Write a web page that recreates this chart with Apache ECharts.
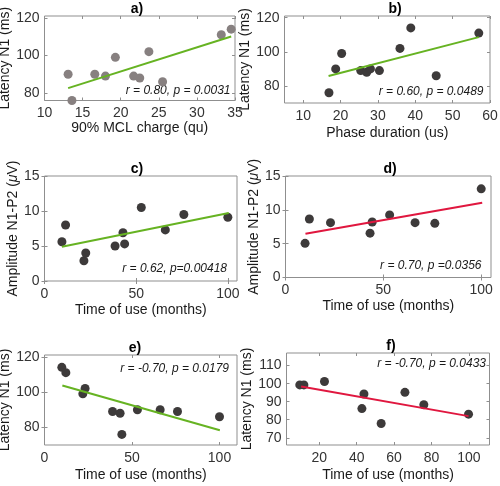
<!DOCTYPE html>
<html>
<head>
<meta charset="utf-8">
<script src="https://cdn.jsdelivr.net/npm/echarts@6/dist/echarts.min.js"></script>
<style>html,body{margin:0;padding:0;background:#fff}#c{width:500px;height:486px}</style>
</head>
<body>
<div id="c"></div>
<script>
// ---- data ----
const aCharge  = [13.1, 13.6, 16.6, 18.0, 19.3, 21.7, 22.5, 23.7, 25.5, 33.2, 34.5];
const aLatency = [90, 76, 90, 89, 99, 89, 88, 102, 86, 111, 114];
const aFitX = [13.1, 34.5], aFitY = [82.6, 110.1];

const bPhase   = [16.9, 18.7, 20.3, 25.4, 27.0, 28.0, 30.4, 35.9, 38.8, 45.6, 57.0];
const bLatency = [76, 90, 99, 89, 88, 90, 89, 102, 114, 86, 111];
const bFitX = [16.8, 57.0], bFitY = [85.8, 108.6];

const cTime = [9.5, 11.5, 21.5, 22.5, 38.5, 42.8, 43.7, 52.8, 65.9, 76, 100];
const cAmp  = [5.6, 8.0, 2.9, 4.0, 5.0, 6.9, 5.3, 10.5, 7.3, 9.5, 9.1];
const cFitX = [9.5, 100.5], cFitY = [4.9, 9.7];

const dTime = [10, 12.2, 23, 43.2, 44.3, 53.2, 66.2, 76.3, 100];
const dAmp  = [5.05, 8.65, 8.1, 6.55, 8.2, 9.25, 8.1, 8.0, 13.1];
const dFitX = [10.2, 100.5], dFitY = [6.45, 11.05];

const eTime    = [9.9, 12.2, 21.9, 23.2, 38.9, 43.2, 44.2, 53.1, 66.1, 76.0, 100];
const eLatency = [114, 111, 99, 102, 89, 88, 76, 90, 90, 89, 86];
const eFitX = [10.2, 100.2], eFitY = [103.7, 78.4];

const fTime    = [9.6, 11.8, 22.8, 42.8, 43.9, 53.1, 65.8, 75.9, 99.8];
const fLatency = [99.3, 99.3, 101.2, 86.2, 94.3, 77.9, 95.2, 88.3, 83.1];
const fFitX = [10.3, 99.8], fFitY = [98.4, 82.0];

const xTicksA = [10, 15, 20, 25, 30, 35];
const xTicksB = [10, 20, 30, 40, 50, 60];
const xTicksTime = [0, 50, 100];
const xTicksF = [20, 40, 60, 80, 100];
const yTicksLat = [80, 100, 120];
const yTicksAmp = [0, 5, 10, 15];
const yTicksF = [70, 80, 90, 100, 110];

const titles = ['a)', 'b)', 'c)', 'd)', 'e)', 'f)'];
const stats = ['r = 0.80, p = 0.0031', 'r = 0.60, p = 0.0489', 'r = 0.62, p=0.00418',
               'r = 0.70, p =0.0356', 'r = -0.70, p = 0.0179', 'r = -0.70, p = 0.0433'];
const xNames = ['90% MCL charge (qu)', 'Phase duration (us)', 'Time of use (months)',
                'Time of use (months)', 'Time of use (months)', 'Time of use (months)'];
const latName = 'Latency N1 (ms)';
const ampName = 'Amplitude N1-P2 ({mu|μ}V)';

// ---- layout / style ----
const FONT = 'Liberation Sans';
const GREEN = '#66b322', RED = '#e0173f';
const BOX = '#8f8f8f';
const panels = [
  {grid:[44.5,16,190.5,84.5],  x:[10,35],  xt:xTicksA,    y:[76,121], yt:yTicksLat, yn:latName, xs:aCharge, ys:aLatency, fx:aFitX, fy:aFitY, col:GREEN, dot:'#878080', yGap:30, xGap:21, tx:137, stat:[230.5,91]},
  {grid:[284.5,16,205.5,87],   x:[5,60],   xt:xTicksB,    y:[70,121], yt:yTicksLat, yn:latName, xs:bPhase, ys:bLatency, fx:bFitX, fy:bFitY, col:GREEN, dot:'#3d3a3a', yGap:25, xGap:23, tx:395, stat:[483.5,91.5]},
  {grid:[44.5,176,192.5,105],  x:[0,105],  xt:xTicksTime, y:[0,15],   yt:yTicksAmp, yn:ampName, xs:cTime, ys:cAmp, fx:cFitX, fy:cFitY, col:GREEN, dot:'#3d3a3a', yGap:23, xGap:22, tx:137, stat:[227,269]},
  {grid:[285.5,176,205.5,101.5],x:[0,105], xt:xTicksTime, y:[0,15],   yt:yTicksAmp, yn:ampName, xs:dTime, ys:dAmp, fx:dFitX, fy:dFitY, col:RED, dot:'#3d3a3a', yGap:23, xGap:22, tx:390, stat:[481.5,266]},
  {grid:[44.5,355,192.5,90],   x:[0,110],  xt:xTicksTime, y:[70,121], yt:yTicksLat, yn:latName, xs:eTime, ys:eLatency, fx:eFitX, fy:eFitY, col:GREEN, dot:'#3d3a3a', yGap:30, xGap:23, tx:135, stat:[229,369]},
  {grid:[286.5,353,203,92],    x:[2.5,111],xt:xTicksF,    y:[66,117], yt:yTicksF,   yn:latName, xs:fTime, ys:fLatency, fx:fFitX, fy:fFitY, col:RED, dot:'#3d3a3a', yGap:27, xGap:23, tx:391, stat:[486,363.5]}
];

const grid = [], xAxis = [], yAxis = [], series = [], graphic = [];
const labelStyle = {fontFamily: FONT, fontSize: 14, color: '#333333'};
panels.forEach((p, i) => {
  grid.push({left:p.grid[0], top:p.grid[1], width:p.grid[2], height:p.grid[3],
             show:true, borderColor:BOX, borderWidth:1, backgroundColor:'#fff',
             containLabel:false, outerBoundsMode:'none'});
  const tickStyle = {show:true, inside:true, length:3, lineStyle:{color:BOX, width:1}};
  xAxis.push({type:'value', gridIndex:i, min:p.x[0], max:p.x[1], position:'bottom',
    axisLine:{show:false}, splitLine:{show:false},
    axisTick:Object.assign({customValues:p.xt}, tickStyle),
    axisLabel:Object.assign({customValues:p.xt, margin:6}, labelStyle),
    name:xNames[i], nameLocation:'middle', nameGap:p.xGap,
    nameTextStyle:{fontFamily:FONT, fontSize:14, color:'#1a1a1a'}});
  yAxis.push({type:'value', gridIndex:i, min:p.y[0], max:p.y[1], position:'left',
    axisLine:{show:false}, splitLine:{show:false},
    axisTick:Object.assign({customValues:p.yt}, tickStyle),
    axisLabel:Object.assign({customValues:p.yt, margin:5}, labelStyle),
    name:p.yn, nameLocation:'middle', nameGap:p.yGap,
    nameTextStyle:{fontFamily:FONT, fontSize:14, color:'#1a1a1a',
      rich:{mu:{fontFamily:FONT, fontSize:14, fontStyle:'italic', color:'#1a1a1a'}}}});
  xAxis.push({type:'value', gridIndex:i, min:p.x[0], max:p.x[1], position:'top',
    axisLine:{show:false}, splitLine:{show:false}, axisLabel:{show:false},
    axisTick:Object.assign({customValues:p.xt}, tickStyle)});
  yAxis.push({type:'value', gridIndex:i, min:p.y[0], max:p.y[1], position:'right',
    axisLine:{show:false}, splitLine:{show:false}, axisLabel:{show:false},
    axisTick:Object.assign({customValues:p.yt}, tickStyle)});

  series.push({type:'scatter', xAxisIndex:2*i, yAxisIndex:2*i, symbolSize:9, clip:false,
    itemStyle:{color:p.dot, opacity:1}, data:p.xs.map((v, k) => [v, p.ys[k]]), z:2});
  series.push({type:'line', xAxisIndex:2*i, yAxisIndex:2*i, symbol:'none', clip:false,
    lineStyle:{color:p.col, width:2}, data:p.fx.map((v, k) => [v, p.fy[k]]), z:3});

  graphic.push({type:'text', x:p.tx, y:p.grid[1] - 7,
    style:{text:titles[i], fontFamily:FONT, fontSize:14, fontWeight:'bold', fill:'#000',
      textAlign:'center', textVerticalAlign:'middle'}});
  graphic.push({type:'text', x:p.stat[0], y:p.stat[1],
    style:{text:stats[i], fontFamily:FONT, fontSize:12, fontStyle:'italic', fill:'#1a1a1a',
      textAlign:'right', textVerticalAlign:'middle'}});
});

const chart = echarts.init(document.getElementById('c'), null, {renderer:'canvas'});
chart.setOption({animation:false, backgroundColor:'#fff', grid, xAxis, yAxis, series, graphic});
</script>
</body>
</html>
